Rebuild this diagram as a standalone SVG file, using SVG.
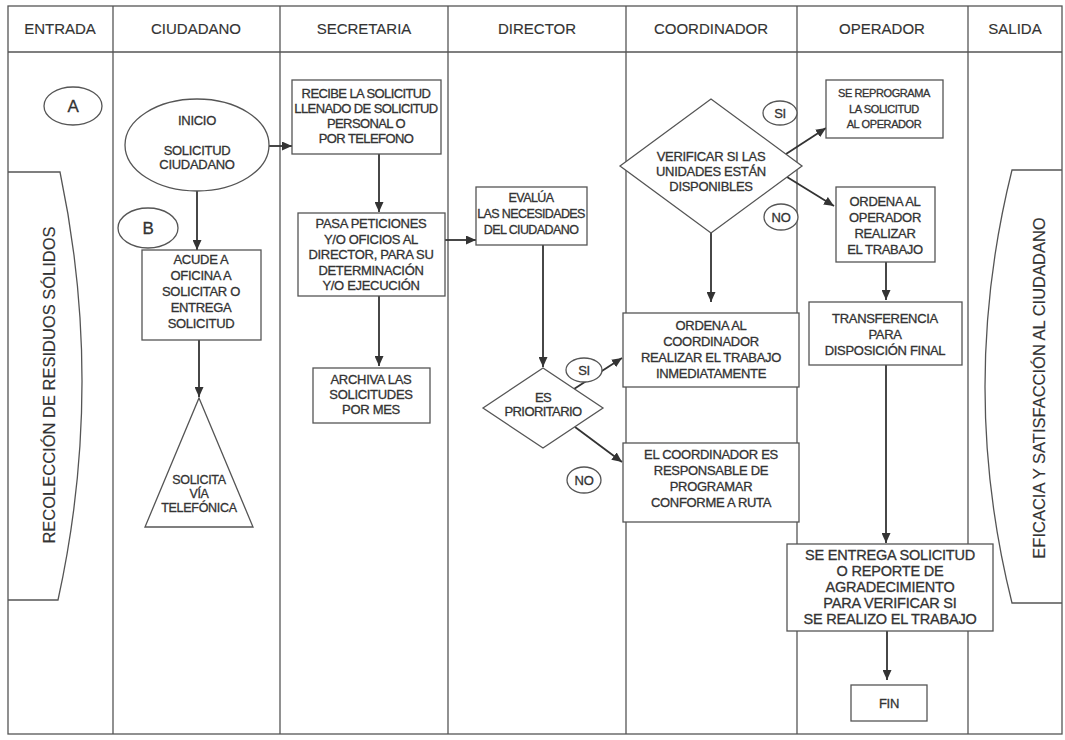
<svg xmlns="http://www.w3.org/2000/svg" width="1065" height="740" viewBox="0 0 1065 740">
<defs>
<marker id="arr" markerUnits="userSpaceOnUse" markerWidth="10" markerHeight="9" refX="10" refY="4.5" orient="auto">
<path d="M0,0 L10,4.5 L0,9 z" fill="#333"/>
</marker>
<style>
.ln{stroke:#555;stroke-width:1.3;fill:none}
.bx{fill:#fff;stroke:#555;stroke-width:1.3}
.t{font-family:"Liberation Sans",Arial,sans-serif;font-size:13px;fill:#333;stroke:#333;stroke-width:0.3;text-anchor:middle;letter-spacing:-0.3px}
.h{font-size:15px;letter-spacing:0;stroke-width:0.15}
.sm{font-size:11px;letter-spacing:-0.4px}
.lg{font-size:14.5px;letter-spacing:-0.2px}
.big{font-size:16.5px;letter-spacing:0;stroke-width:0.15}
.nar{letter-spacing:-0.6px}
.ev{font-size:12.5px;letter-spacing:-0.6px}
.cn{stroke:#333;stroke-width:1.8;fill:none;marker-end:url(#arr)}
</style>
</defs>
<rect width="1065" height="740" fill="#fff"/>
<g id="lanes">
<rect x="8" y="6" width="1054" height="728" class="ln"/>
<line x1="8" y1="52" x2="1062" y2="52" class="ln"/>
<line x1="113" y1="6" x2="113" y2="734" class="ln"/>
<line x1="280" y1="6" x2="280" y2="734" class="ln"/>
<line x1="448" y1="6" x2="448" y2="734" class="ln"/>
<line x1="626" y1="6" x2="626" y2="734" class="ln"/>
<line x1="797" y1="6" x2="797" y2="734" class="ln"/>
<line x1="968" y1="6" x2="968" y2="734" class="ln"/>
<text class="t h" x="60" y="34">ENTRADA</text>
<text class="t h" x="196" y="34">CIUDADANO</text>
<text class="t h" x="364" y="34">SECRETARIA</text>
<text class="t h" x="537" y="34">DIRECTOR</text>
<text class="t h" x="711" y="34">COORDINADOR</text>
<text class="t h" x="882" y="34">OPERADOR</text>
<text class="t h" x="1015" y="34">SALIDA</text>
</g>
<g id="connectors">
<path class="cn" d="M269,146 L292,146"/>
<path class="cn" d="M197,191 L197,250"/>
<path class="cn" d="M199,340 L199,397"/>
<path class="cn" d="M379,154 L379,212"/>
<path class="cn" d="M379,296 L379,366"/>
<path class="cn" d="M445,240 L476,240"/>
<path class="cn" d="M543,245 L543,367"/>
<path class="cn" d="M574,389 L622,358"/>
<path class="cn" d="M575,427 L622,462"/>
<path class="cn" d="M711,233 L711,302"/>
<path class="cn" d="M786,154 L826,128"/>
<path class="cn" d="M787,177 L834,206"/>
<path class="cn" d="M886,262 L886,300"/>
<path class="cn" d="M886,365 L886,543"/>
<path class="cn" d="M887,631 L887,680"/>
</g>
<g id="n-a">
<ellipse cx="73" cy="106" rx="29" ry="19" class="bx"/>
<text class="t" style="font-size:17px" x="73" y="112">A</text>
</g>
<g id="n-recoleccion">
<path d="M8,172 L60,172 Q105,386 58,600 L8,600" class="ln"/>
<text class="t big" transform="translate(55,385) rotate(-90)">RECOLECCIÓN DE RESIDUOS SÓLIDOS</text>
</g>
<g id="n-inicio">
<ellipse cx="197" cy="145" rx="72" ry="46" class="bx"/>
<text class="t" x="197" y="125">INICIO</text>
<text class="t" x="197" y="155">SOLICITUD</text>
<text class="t" x="197" y="169">CIUDADANO</text>
</g>
<g id="n-b">
<ellipse cx="148" cy="228" rx="30" ry="20" class="bx"/>
<text class="t" style="font-size:17px" x="148" y="234">B</text>
</g>
<g id="n-acude">
<rect x="142" y="250" width="119" height="90" class="bx"/>
<text class="t" x="201" y="264">ACUDE A</text>
<text class="t" x="201" y="280">OFICINA A</text>
<text class="t" x="201" y="296">SOLICITAR O</text>
<text class="t" x="201" y="312">ENTREGA</text>
<text class="t" x="201" y="328">SOLICITUD</text>
</g>
<g id="n-solicita">
<polygon points="199,398 253,527 145,527" class="bx"/>
<text class="t" style="font-size:12.5px" x="199" y="484">SOLICITA</text>
<text class="t" style="font-size:12.5px" x="199" y="498">VÍA</text>
<text class="t" style="font-size:12.5px" x="199" y="512">TELEFÓNICA</text>
</g>
<g id="n-recibe">
<rect x="292" y="80" width="149" height="74" class="bx"/>
<text class="t nar" x="366" y="98">RECIBE LA SOLICITUD</text>
<text class="t nar" x="366" y="113">LLENADO DE SOLICITUD</text>
<text class="t nar" x="366" y="128">PERSONAL O</text>
<text class="t nar" x="366" y="143">POR TELEFONO</text>
</g>
<g id="n-pasa">
<rect x="298" y="213" width="147" height="83" class="bx"/>
<text class="t" x="371" y="228">PASA PETICIONES</text>
<text class="t" x="371" y="244">Y/O OFICIOS AL</text>
<text class="t" x="371" y="259">DIRECTOR, PARA SU</text>
<text class="t" x="371" y="275">DETERMINACIÓN</text>
<text class="t" x="371" y="290">Y/O EJECUCIÓN</text>
</g>
<g id="n-archiva">
<rect x="313" y="368" width="117" height="55" class="bx"/>
<text class="t" x="371" y="384">ARCHIVA LAS</text>
<text class="t" x="371" y="399">SOLICITUDES</text>
<text class="t" x="371" y="414">POR MES</text>
</g>
<g id="n-evalua">
<rect x="476" y="187" width="111" height="58" class="bx"/>
<text class="t ev" x="531" y="202">EVALÚA</text>
<text class="t ev" x="531" y="218">LAS NECESIDADES</text>
<text class="t ev" x="531" y="234">DEL CIUDADANO</text>
</g>
<g id="n-prioritario">
<polygon points="483,408 543,368 603,408 543,448" class="bx"/>
<text class="t nar" x="543" y="402">ES</text>
<text class="t nar" x="543" y="416">PRIORITARIO</text>
</g>
<g id="n-si1">
<ellipse cx="584" cy="370" rx="18" ry="12" class="bx"/>
<text class="t" x="584" y="375">SI</text>
</g>
<g id="n-no1">
<ellipse cx="584" cy="480" rx="17" ry="13" class="bx"/>
<text class="t" x="584" y="485">NO</text>
</g>
<g id="n-verificar">
<polygon points="620,166 711,99 802,166 711,233" class="bx"/>
<text class="t" x="711" y="161">VERIFICAR SI LAS</text>
<text class="t" x="711" y="176">UNIDADES ESTÁN</text>
<text class="t" x="711" y="191">DISPONIBLES</text>
</g>
<g id="n-si2">
<ellipse cx="780" cy="113" rx="17" ry="12" class="bx"/>
<text class="t" x="780" y="118">SI</text>
</g>
<g id="n-no2">
<ellipse cx="781" cy="217" rx="17" ry="13" class="bx"/>
<text class="t" x="781" y="222">NO</text>
</g>
<g id="n-ordena-coord">
<rect x="623" y="313" width="176" height="74" class="bx"/>
<text class="t" x="711" y="330">ORDENA AL</text>
<text class="t" x="711" y="346">COORDINADOR</text>
<text class="t" x="711" y="362">REALIZAR EL TRABAJO</text>
<text class="t" x="711" y="378">INMEDIATAMENTE</text>
</g>
<g id="n-coord-resp">
<rect x="623" y="443" width="176" height="79" class="bx"/>
<text class="t" x="711" y="459">EL COORDINADOR ES</text>
<text class="t" x="711" y="475">RESPONSABLE DE</text>
<text class="t" x="711" y="491">PROGRAMAR</text>
<text class="t" x="711" y="507">CONFORME A RUTA</text>
</g>
<g id="n-reprograma">
<rect x="826" y="80" width="117" height="58" class="bx"/>
<text class="t sm" x="884" y="97">SE REPROGRAMA</text>
<text class="t sm" x="884" y="113">LA SOLICITUD</text>
<text class="t sm" x="884" y="128">AL OPERADOR</text>
</g>
<g id="n-ordena-op">
<rect x="836" y="187" width="99" height="75" class="bx"/>
<text class="t" x="885" y="206">ORDENA AL</text>
<text class="t" x="885" y="222">OPERADOR</text>
<text class="t" x="885" y="238">REALIZAR</text>
<text class="t" x="885" y="254">EL TRABAJO</text>
</g>
<g id="n-transferencia">
<rect x="809" y="302" width="153" height="63" class="bx"/>
<text class="t" x="885" y="323">TRANSFERENCIA</text>
<text class="t" x="885" y="339">PARA</text>
<text class="t" x="885" y="355">DISPOSICIÓN FINAL</text>
</g>
<g id="n-entrega">
<rect x="787" y="544" width="206" height="87" class="bx"/>
<text class="t lg" x="890" y="560">SE ENTREGA SOLICITUD</text>
<text class="t lg" x="890" y="576">O REPORTE DE</text>
<text class="t lg" x="890" y="592">AGRADECIMIENTO</text>
<text class="t lg" x="890" y="608">PARA VERIFICAR SI</text>
<text class="t lg" x="890" y="624">SE REALIZO EL TRABAJO</text>
</g>
<g id="n-fin">
<rect x="851" y="685" width="76" height="36" class="bx"/>
<text class="t" x="889" y="708">FIN</text>
</g>
<g id="n-salida">
<path d="M1062,170 L1012,170 Q958,387 1012,603 L1062,603" class="ln"/>
<text class="t big" transform="translate(1045,388) rotate(-90)">EFICACIA Y SATISFACCIÓN AL CIUDADANO</text>
</g>
</svg>
